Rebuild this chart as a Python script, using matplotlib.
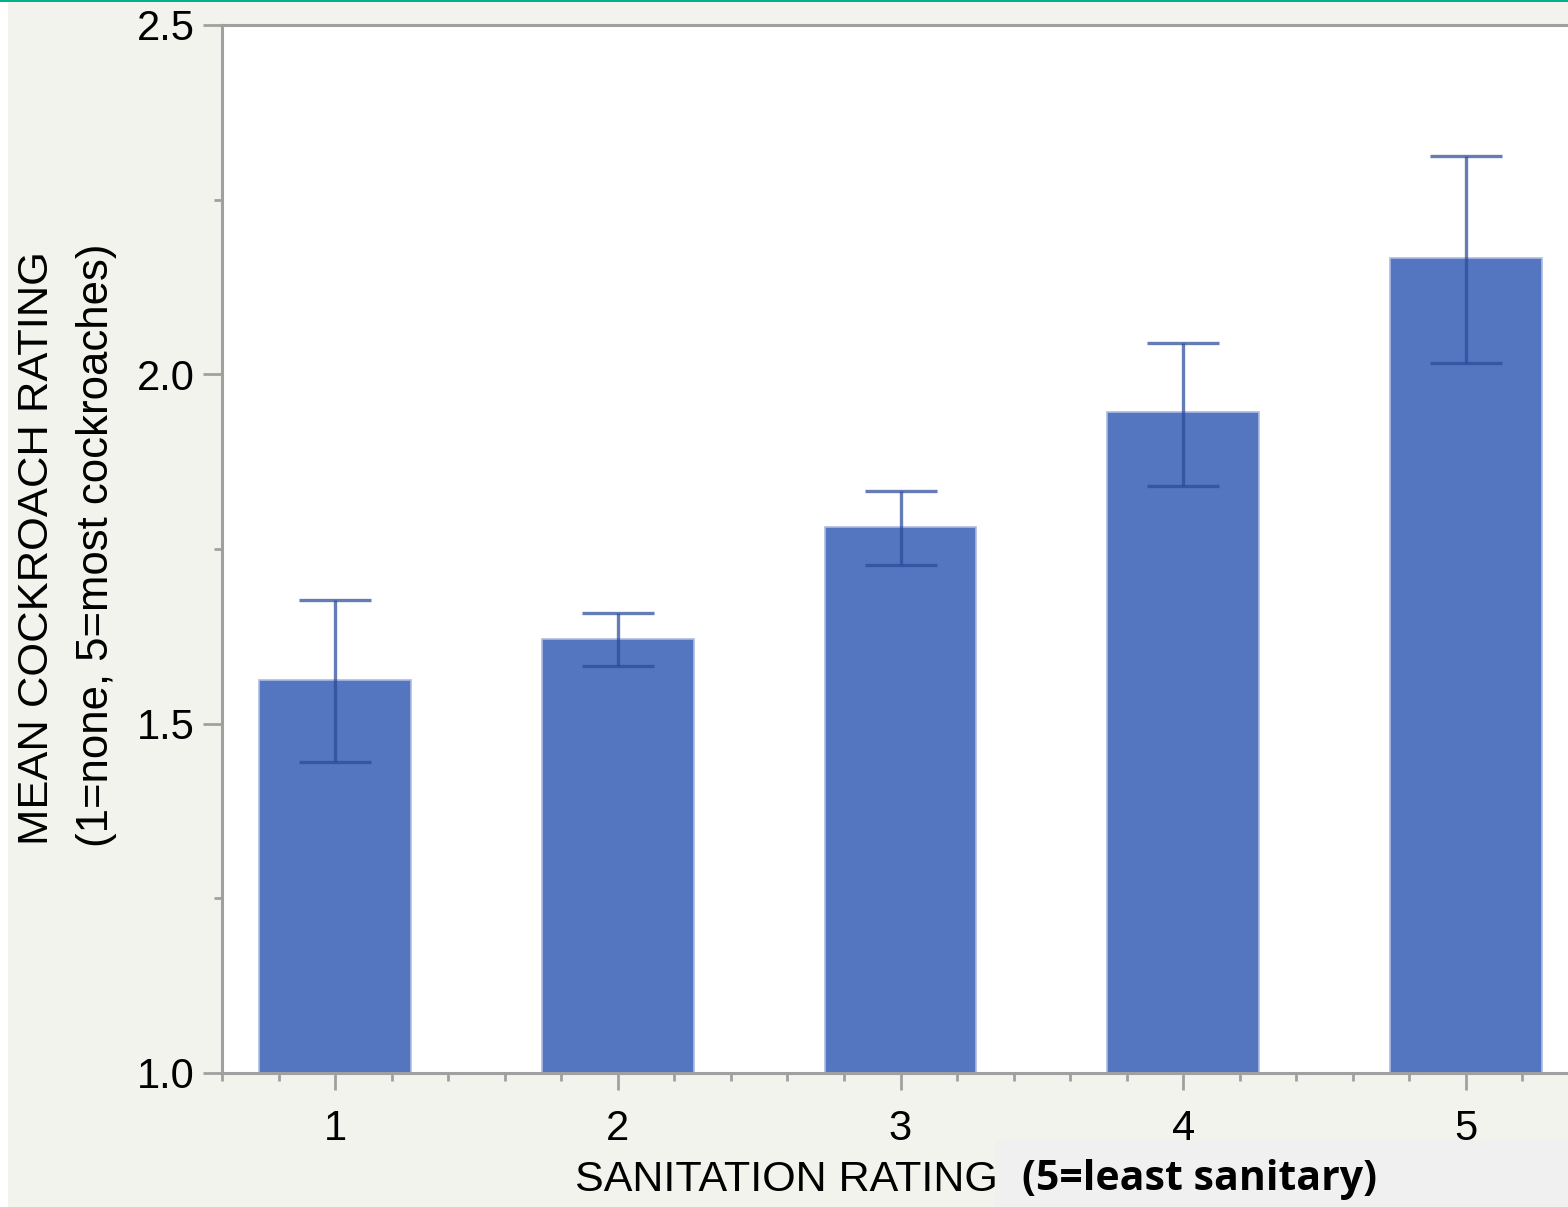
import numpy as np
import matplotlib.pyplot as plt
from matplotlib.patches import Rectangle
from matplotlib.ticker import MultipleLocator

# values
sanitation = [1, 2, 3, 4, 5]
mean_rating = [1.563, 1.621, 1.781, 1.946, 2.166]
err_low = [1.445, 1.583, 1.727, 1.840, 2.016]
err_high = [1.677, 1.658, 1.833, 2.045, 2.312]

yerr = [np.array(mean_rating) - np.array(err_low),
        np.array(err_high) - np.array(mean_rating)]

plt.rcParams['font.family'] = ['Liberation Sans', 'DejaVu Sans']

bg = '#f3f3ee'
fig = plt.figure(figsize=(15.68, 12.07), dpi=100, facecolor=bg)
ax = fig.add_axes([222 / 1568, 1 - 1073 / 1207, 1357 / 1568, 1048 / 1207])
ax.set_facecolor('white')

ax.bar(sanitation, np.array(mean_rating) - 1.0, bottom=1.0, width=0.537,
       color='#5476c0', edgecolor='#aebbe3', linewidth=1.2, zorder=2)
ax.errorbar(sanitation, mean_rating, yerr=yerr, fmt='none',
            ecolor='#2b4a9a', alpha=0.72, elinewidth=2.4, capsize=26,
            capthick=2.4, zorder=3)

ax.set_xlim(0.6, 5.4)
ax.set_ylim(1.0, 2.5)
ax.set_xticks(sanitation)
ax.set_yticks([1.0, 1.5, 2.0, 2.5])
ax.set_yticklabels(['1.0', '1.5', '2.0', '2.5'])
ax.xaxis.set_minor_locator(MultipleLocator(0.2))
ax.yaxis.set_minor_locator(MultipleLocator(0.25))

spine_c = '#a0a0a0'
for s in ['left', 'bottom', 'top']:
    ax.spines[s].set_color(spine_c)
    ax.spines[s].set_linewidth(2.2)
ax.spines['right'].set_visible(False)

ax.tick_params(axis='both', which='major', colors=spine_c, labelcolor='black',
               labelsize=30, width=2, direction='out')
ax.tick_params(axis='x', which='major', length=12, pad=14)
ax.tick_params(axis='y', which='major', length=13.5, pad=6)
ax.tick_params(axis='both', which='minor', colors=spine_c, width=2, length=6)

# y axis title, two lines
fig.text(37 / 1568, 1 - 548 / 1207, 'MEAN COCKROACH RATING', rotation=90,
         ha='center', va='center', fontsize=31.3)
fig.text(97 / 1568, 1 - 545 / 1207, '(1=none, 5=most cockroaches)', rotation=90,
         ha='center', va='center', fontsize=31.5)

# x axis title, second part pasted on a lighter box
fig.add_artist(Rectangle((995 / 1568, 0), 573 / 1568, 67 / 1207,
                         transform=fig.transFigure, facecolor='#f0f0f0',
                         edgecolor='none', zorder=0))
fig.text(786 / 1568, 1 - 1180 / 1207, 'SANITATION RATING',
         ha='center', va='center', fontsize=31)
fig.text(1022 / 1568, 1 - 1180 / 1207, '(5=least sanitary)',
         ha='left', va='center', fontsize=29.5, fontweight='bold',
         family=['Open Sans', 'DejaVu Sans'])

# teal rule at the top and white strip at the left edge
fig.add_artist(Rectangle((0, 1 - 2 / 1207), 1, 2 / 1207, transform=fig.transFigure,
                         facecolor='#00b08a', edgecolor='none'))
fig.add_artist(Rectangle((0, 0), 8 / 1568, 1 - 2 / 1207, transform=fig.transFigure,
                         facecolor='white', edgecolor='none'))

fig.savefig('out.png', dpi=100, facecolor=bg)
